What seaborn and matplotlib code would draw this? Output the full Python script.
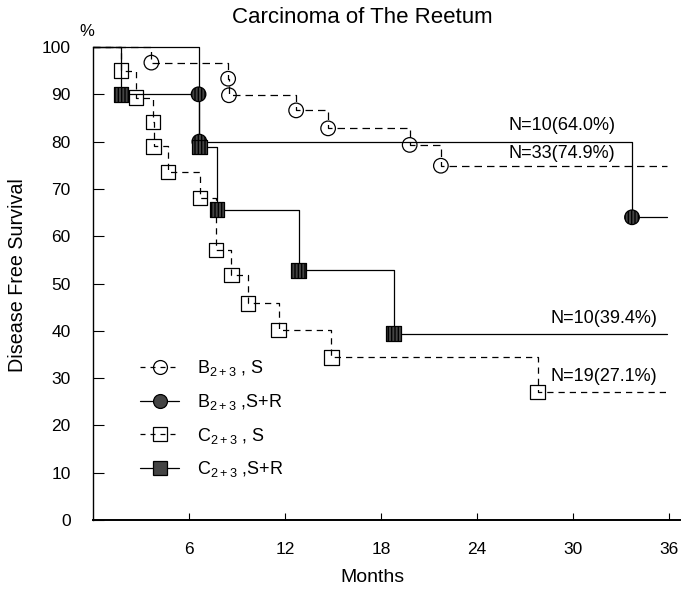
import matplotlib
matplotlib.use("Agg")
import matplotlib.pyplot as plt
from matplotlib.lines import Line2D
import seaborn as sns

sns.set_style("ticks")
plt.rcParams['font.family'] = ['Liberation Sans', 'DejaVu Sans']
plt.rcParams['mathtext.default'] = 'regular'
plt.rcParams['text.color'] = 'black'
plt.rcParams['xtick.color'] = 'black'
plt.rcParams['ytick.color'] = 'black'
plt.rcParams['axes.edgecolor'] = 'black'

# event times (months) and survival (%)
bs_t = [3.65, 8.45, 8.5, 12.7, 14.7, 19.8, 21.75]
bs_v = [96.7, 93.3, 89.8, 86.6, 82.8, 79.3, 74.9]

bsr_t = [6.6, 6.65, 33.7]
bsr_v = [90.0, 80.0, 64.0]

cs_t = [1.75, 2.7, 3.75, 3.8, 4.7, 6.7, 7.7, 8.65, 9.7, 11.6, 14.9, 27.8]
cs_v = [95.0, 89.3, 84.1, 79.0, 73.6, 68.1, 57.1, 51.8, 45.8, 40.2, 34.4, 27.1]

csr_t = [1.75, 6.65, 7.75, 12.85, 18.8]
csr_v = [90.0, 78.9, 65.6, 52.8, 39.4]

end_t = 35.9
y_ticks = [0, 10, 20, 30, 40, 50, 60, 70, 80, 90, 100]
x_ticks = [6, 12, 18, 24, 30, 36]
labels = [r'B$_{2+3}$ , S', r'B$_{2+3}$ ,S+R', r'C$_{2+3}$ , S', r'C$_{2+3}$ ,S+R']

notes = [(26.0, 83.4, 'N=10(64.0%)'), (26.0, 77.4, 'N=33(74.9%)'),
         (28.6, 42.7, 'N=10(39.4%)'), (28.6, 30.3, 'N=19(27.1%)')]

fig = plt.figure(figsize=(6.82, 5.89), dpi=100)
ax = fig.add_axes([93 / 682, 69 / 589, 587 / 682, 473 / 589])

series = [
    (bs_t, bs_v, (6, 4), 'o', 'none'),
    (bsr_t, bsr_v, '', 'o', '#444444'),
    (cs_t, cs_v, (5, 4), 's', 'none'),
    (csr_t, csr_v, '', 's', '#444444'),
]

handles = []
for t, v, dash, mk, fc in series:
    xs = [0] + t + [end_t]
    ys = [100] + v + [v[-1]]
    sns.lineplot(x=xs, y=ys, ax=ax, color='black', lw=0.9,
                 estimator=None, sort=False, drawstyle='steps-post')
    l = ax.lines[-1]
    if dash:
        l.set_dashes(dash)
    l.set_clip_on(False)
    hatch = '|||||' if fc != 'none' else None
    sns.scatterplot(x=t, y=v, ax=ax, marker=mk, s=110, facecolor=fc,
                    edgecolor='black', linewidth=0.9, hatch=hatch, zorder=3)
    h = Line2D([], [], color='black', lw=0.9, marker=mk, markersize=10,
               markerfacecolor=fc, markeredgecolor='black', markeredgewidth=0.9)
    if dash:
        h.set_dashes((4, 4))
    handles.append(h)

for x, y, s in notes:
    ax.text(x, y, s, fontsize=13, ha='left', va='center')

ax.legend(handles, labels, loc='center left', bbox_to_anchor=(1.9, 21.4),
          bbox_transform=ax.transData, frameon=False, fontsize=13,
          handlelength=2.2, labelspacing=0.75, handletextpad=1.0)

ax.set_xlim(0, 36.7)
ax.set_ylim(0, 100)
ax.set_xticks(x_ticks)
ax.set_yticks(y_ticks)
ax.tick_params(axis='y', direction='in', length=8, width=0.8, pad=16, labelsize=12.5)
ax.tick_params(axis='x', direction='in', length=5, width=0.8, pad=16, labelsize=12.5)
sns.despine(ax=ax, top=True, right=True)
ax.spines['left'].set_linewidth(1.0)
ax.spines['bottom'].set_linewidth(1.4)
ax.set_xlabel('')
ax.set_ylabel('')

ax.text(-0.4, 103.2, '%', fontsize=12, ha='center', va='center', clip_on=False)
fig.text(0.531, 0.971, 'Carcinoma of The Reetum', fontsize=16, ha='center', va='center')
fig.text(18 / 682, 1 - 275 / 589, 'Disease Free Survival', fontsize=14.2, rotation=90,
         ha='center', va='center')
fig.text(372 / 682, 1 - 577 / 589, 'Months', fontsize=14, ha='center', va='center')

fig.savefig('out.png', dpi=100)
